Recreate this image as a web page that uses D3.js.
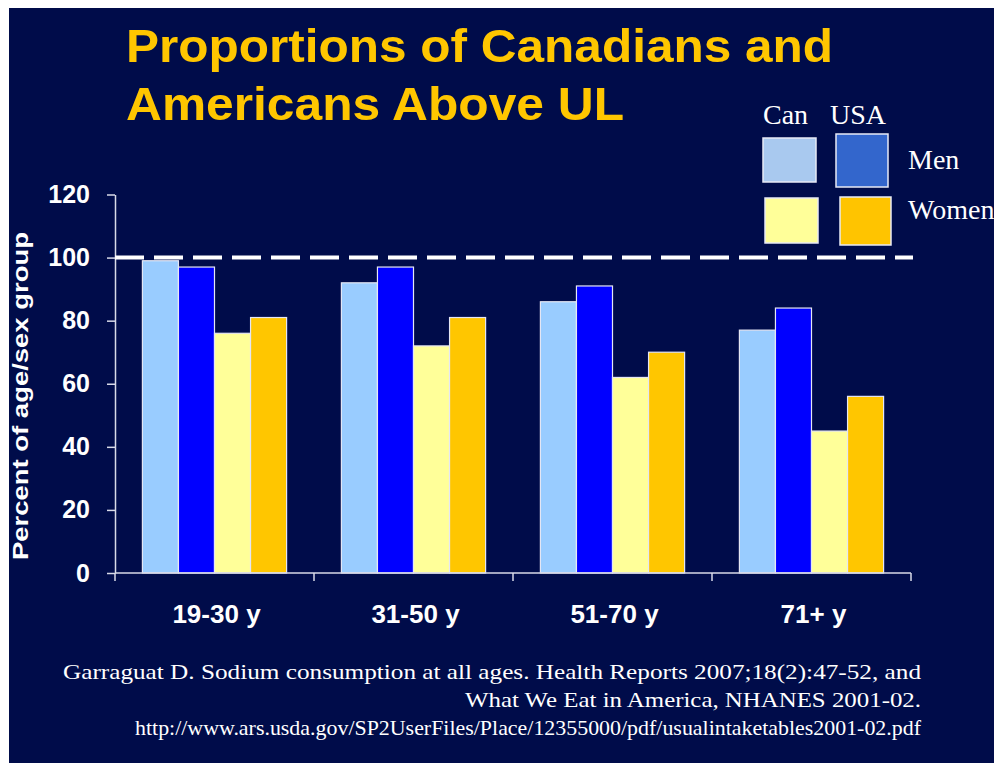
<!DOCTYPE html>
<html>
<head>
<meta charset="utf-8">
<script src="https://cdn.jsdelivr.net/npm/d3@7"></script>
<style>
  html, body { margin: 0; padding: 0; background: #ffffff; }
  svg { display: block; }
</style>
</head>
<body>
<svg width="994" height="763"></svg>
<script>
// chart data
var ageGroups = ["19-30 y", "31-50 y", "51-70 y", "71+ y"];
var seriesNames = ["Can Men", "USA Men", "Can Women", "USA Women"];
var canMen = [99, 92, 86, 77];
var usaMen = [97, 97, 91, 84];
var canWomen = [76, 72, 62, 45];
var usaWomen = [81, 81, 70, 56];
var yTicks = [0, 20, 40, 60, 80, 100, 120];
var ulLevel = 100;

var barColors = ["#99ccff", "#0000ff", "#ffff99", "#ffc600"];
var legendColors = ["#a9c9ef", "#3366cc", "#ffff99", "#ffc400"];

var seriesValues = [canMen, usaMen, canWomen, usaWomen];
var table = ageGroups.map(function (g, i) {
    return { group: g, values: seriesValues.map(function (s, j) { return { key: seriesNames[j], value: s[i], color: barColors[j] }; }) };
});

var svg = d3.select("svg");
var font = "'Liberation Sans', Arial, sans-serif";
var serif = "'Liberation Serif', 'Times New Roman', serif";

// slide background (white strip on top and left like the picture)
svg.append("rect")
    .attr("x", 9).attr("y", 8)
    .attr("width", 985).attr("height", 755)
    .style("fill", "#000c4a");

// title
var title = svg.append("g").style("font-family", font).style("font-weight", "bold").style("fill", "#ffc600");
title.append("text").attr("x", 126).attr("y", 62).style("font-size", "47px")
    .attr("textLength", 707).attr("lengthAdjust", "spacingAndGlyphs")
    .text("Proportions of Canadians and");
title.append("text").attr("x", 126).attr("y", 120).style("font-size", "47px")
    .attr("textLength", 498).attr("lengthAdjust", "spacingAndGlyphs")
    .text("Americans Above UL");

// scales
var x0 = d3.scaleBand().domain(ageGroups).range([115, 911]).padding(0);
var x1 = d3.scaleBand().domain(seriesNames).range([0, x0.bandwidth()]).paddingInner(0).paddingOuter(0.76);
var y = d3.scaleLinear().domain([0, 120]).range([573, 194.5]);

// bars
svg.append("g")
    .selectAll("g")
    .data(table)
    .enter()
    .append("g")
    .attr("transform", function (d) { return "translate(" + x0(d.group) + ",0)"; })
    .selectAll("rect")
    .data(function (d) { return d.values; })
    .enter()
    .append("rect")
    .attr("x", function (d) { return x1(d.key); })
    .attr("y", function (d) { return y(d.value); })
    .attr("width", x1.bandwidth())
    .attr("height", function (d) { return y(0) - y(d.value); })
    .style("fill", function (d) { return d.color; })
    .style("stroke", "#e4e6f4")
    .style("stroke-width", 1.2);

// y axis
var yAxis = svg.append("g")
    .attr("transform", "translate(115,0)")
    .call(d3.axisLeft(y).tickValues(yTicks).tickSize(8).tickSizeOuter(0).tickPadding(17));
yAxis.select(".domain").style("stroke", "#d8dae8").style("stroke-width", 1.5);
yAxis.selectAll(".tick line").style("stroke", "#d8dae8").style("stroke-width", 1.5);
yAxis.selectAll(".tick text")
    .style("fill", "#ffffff")
    .style("font-family", font)
    .style("font-weight", "bold")
    .style("font-size", "25px");

// x axis, ticks at the group boundaries
var xAxis = svg.append("g").attr("transform", "translate(0,573)");
xAxis.append("line")
    .attr("x1", x0.range()[0]).attr("x2", x0.range()[1])
    .style("stroke", "#d8dae8").style("stroke-width", 1.5);
var edges = ageGroups.map(function (g) { return x0(g); }).concat([x0.range()[1]]);
xAxis.selectAll("line.tk")
    .data(edges)
    .enter()
    .append("line")
    .attr("class", "tk")
    .attr("x1", function (d) { return d; }).attr("x2", function (d) { return d; })
    .attr("y1", 0).attr("y2", 8)
    .style("stroke", "#d8dae8").style("stroke-width", 1.5);
xAxis.selectAll("text")
    .data(ageGroups)
    .enter()
    .append("text")
    .attr("x", function (d) { return x0(d) + x0.bandwidth() / 2 + 2; })
    .attr("y", 50)
    .attr("text-anchor", "middle")
    .style("fill", "#ffffff")
    .style("font-family", font)
    .style("font-weight", "bold")
    .style("font-size", "26px")
    .text(function (d) { return d; });

// upper limit dashed line
svg.append("line")
    .attr("x1", 115).attr("x2", 913)
    .attr("y1", y(ulLevel)).attr("y2", y(ulLevel))
    .style("stroke", "#ffffff")
    .style("stroke-width", 4)
    .style("stroke-dasharray", "29,10");

// y axis label
svg.append("text")
    .attr("transform", "translate(28,396) rotate(-90)")
    .attr("text-anchor", "middle")
    .attr("textLength", 328).attr("lengthAdjust", "spacingAndGlyphs")
    .style("fill", "#ffffff")
    .style("font-family", font)
    .style("font-weight", "bold")
    .style("font-size", "22px")
    .text("Percent of age/sex group");

// legend
var legend = svg.append("g").style("font-family", serif).style("fill", "#ffffff").style("font-size", "28px");
legend.append("text").attr("x", 763).attr("y", 124).text("Can");
legend.append("text").attr("x", 830).attr("y", 124).text("USA");
legend.append("text").attr("x", 908).attr("y", 169).text("Men");
legend.append("text").attr("x", 908).attr("y", 219).text("Women");
var legendBoxes = [
    { x: 763, y: 138, w: 53, h: 44 },
    { x: 836, y: 134, w: 52, h: 53 },
    { x: 765, y: 198, w: 53, h: 45 },
    { x: 840, y: 197, w: 51, h: 48 }
];
legend.selectAll("rect")
    .data(legendBoxes)
    .enter()
    .append("rect")
    .attr("x", function (d) { return d.x; })
    .attr("y", function (d) { return d.y; })
    .attr("width", function (d) { return d.w; })
    .attr("height", function (d) { return d.h; })
    .style("fill", function (d, i) { return legendColors[i]; })
    .style("stroke", "#e8eaf6")
    .style("stroke-width", 1.5);

// source note
var note = svg.append("g").style("font-family", serif).style("fill", "#ffffff").style("font-size", "21px")
    .attr("text-anchor", "end");
note.append("text").attr("x", 921).attr("y", 679)
    .attr("textLength", 858).attr("lengthAdjust", "spacingAndGlyphs")
    .text("Garraguat D.  Sodium consumption at all ages. Health Reports 2007;18(2):47-52, and");
note.append("text").attr("x", 921).attr("y", 707)
    .attr("textLength", 456).attr("lengthAdjust", "spacingAndGlyphs")
    .text("What We Eat in America, NHANES 2001-02.");
note.append("text").attr("x", 921).attr("y", 735)
    .attr("textLength", 786).attr("lengthAdjust", "spacingAndGlyphs")
    .text("http://www.ars.usda.gov/SP2UserFiles/Place/12355000/pdf/usualintaketables2001-02.pdf");
</script>
</body>
</html>
